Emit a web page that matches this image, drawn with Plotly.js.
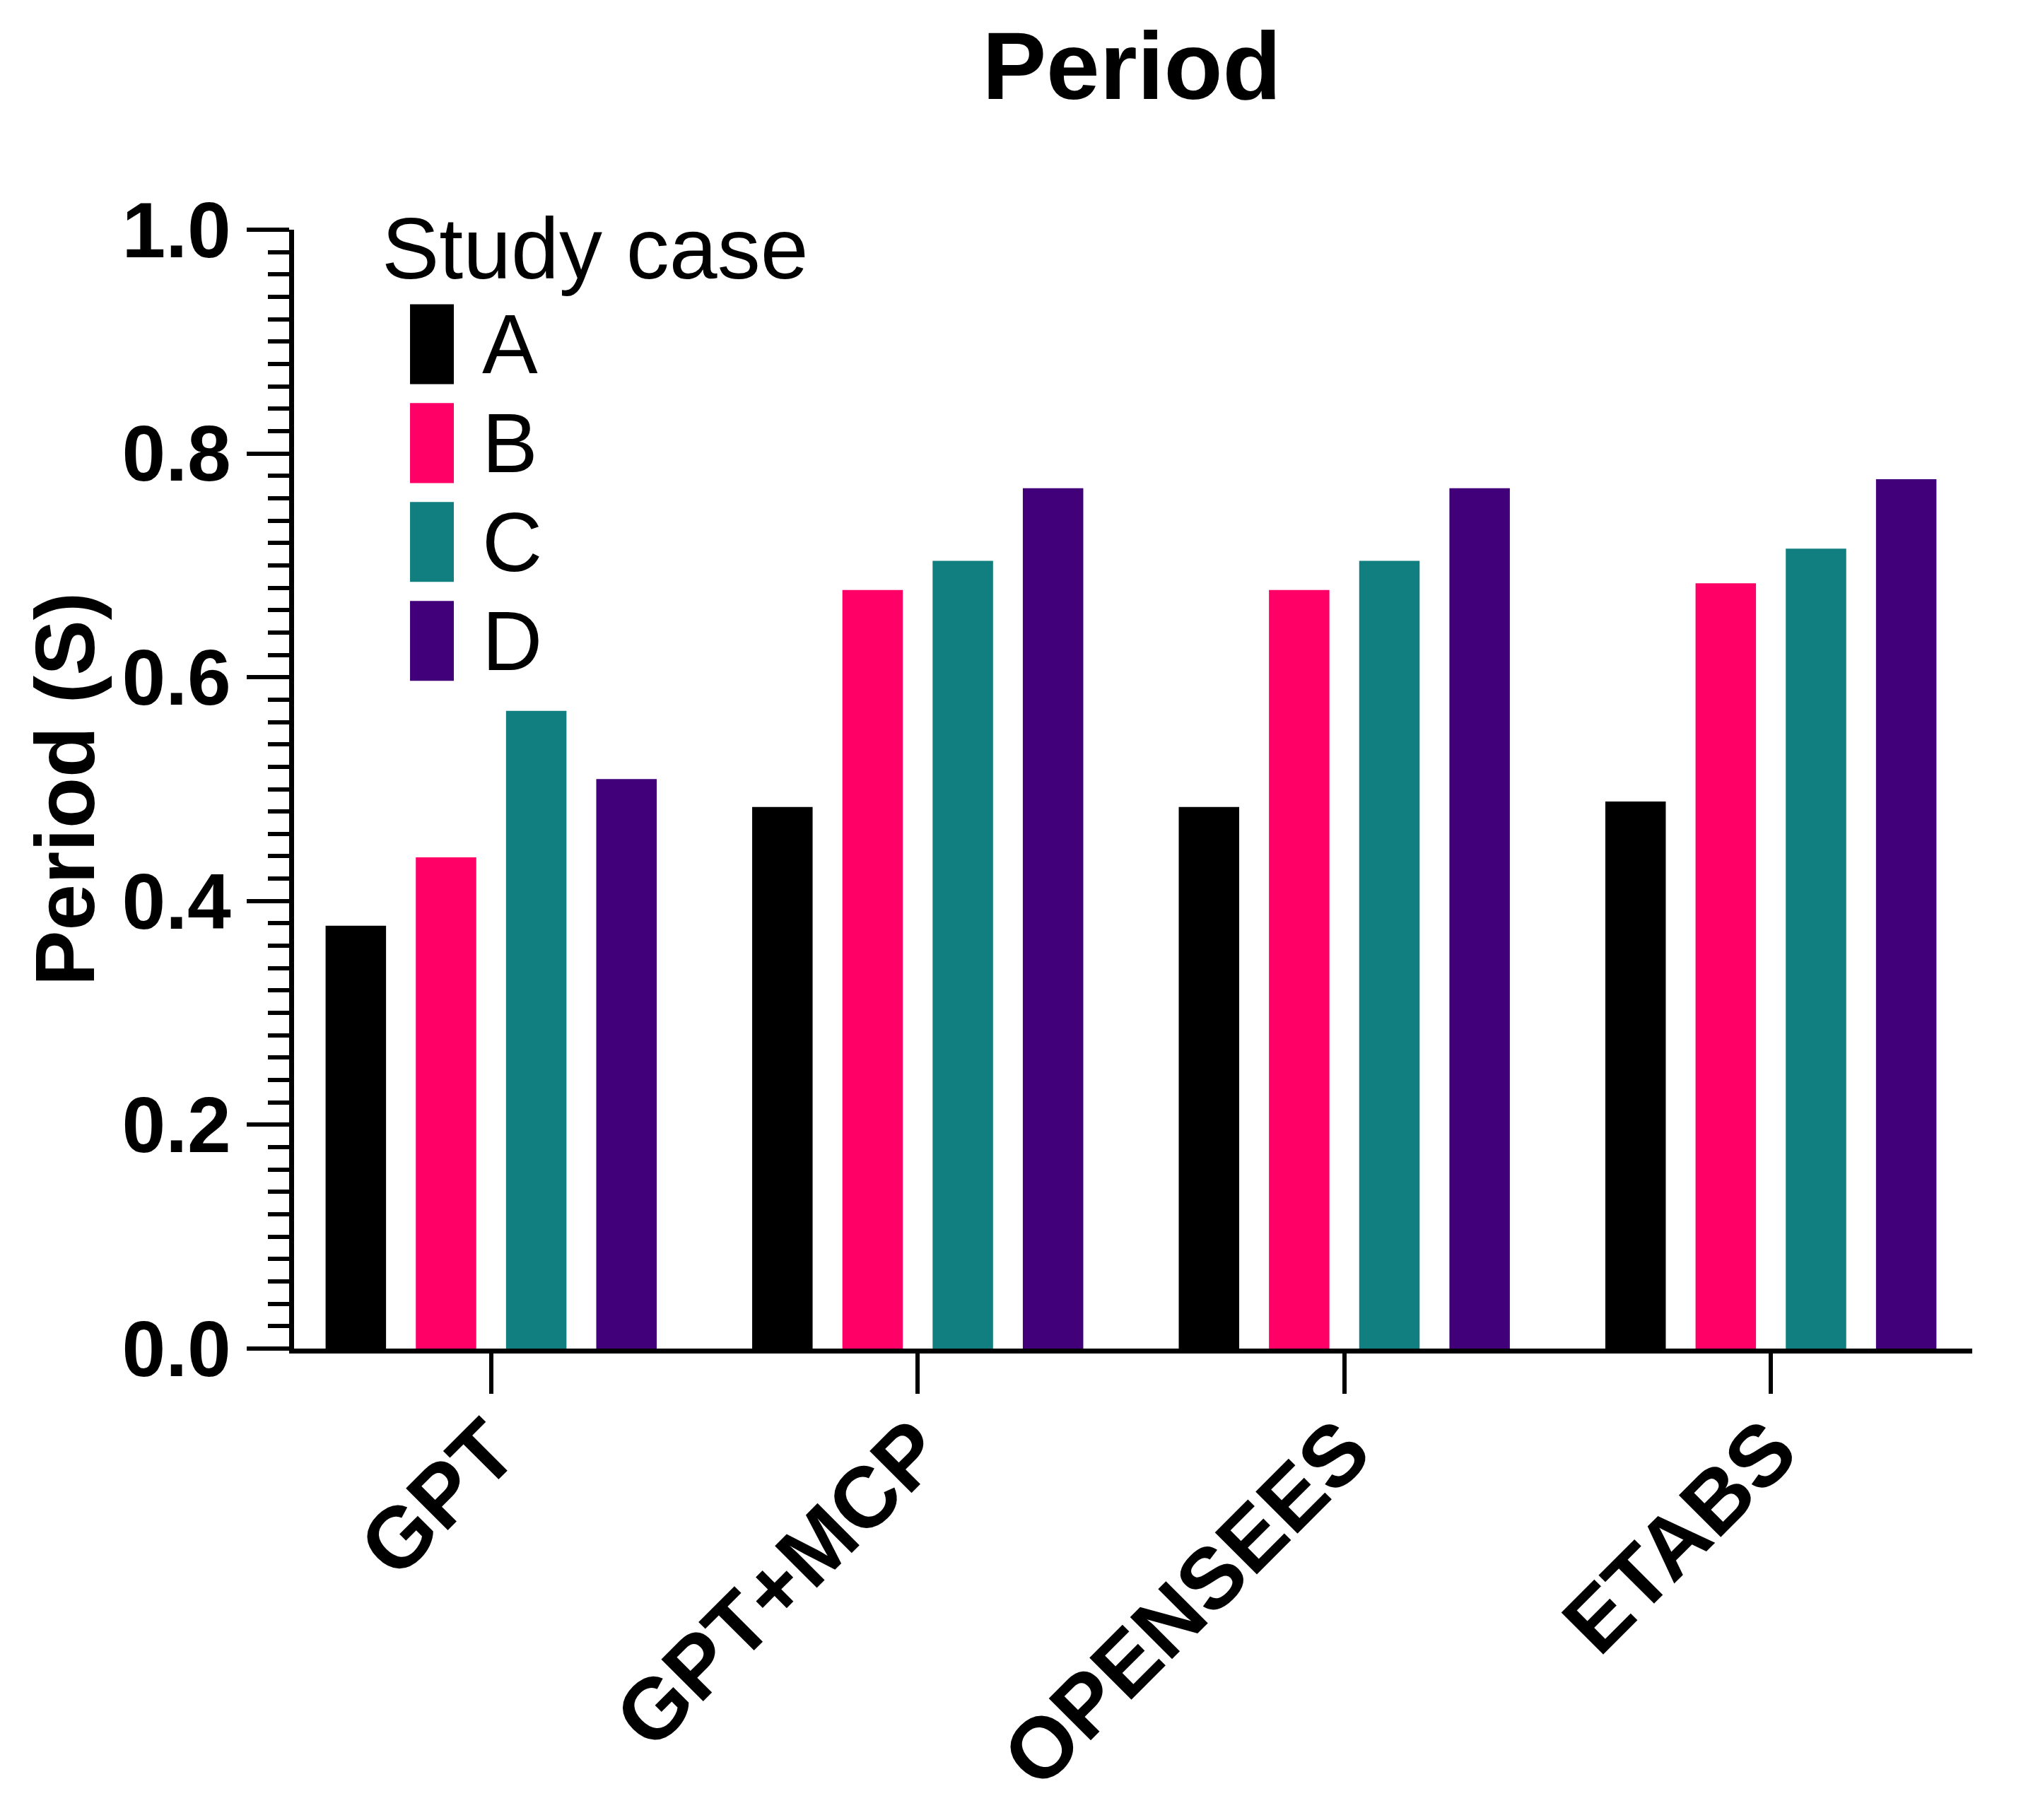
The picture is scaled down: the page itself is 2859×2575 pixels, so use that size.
<!DOCTYPE html>
<html>
<head>
<meta charset="utf-8">
<script src="https://cdn.plot.ly/plotly-3.0.1.min.js"></script>
<style>html,body{margin:0;padding:0;background:#fff;}#chart{width:2859px;height:2575px;}</style>
</head>
<body>
<div id="chart"></div>
<script>
// ---- data ----
const categories = ["GPT", "GPT+MCP", "OPENSEES", "ETABS"];
const seriesNames = ["A", "B", "C", "D"];
const seriesA = [0.378, 0.484, 0.484, 0.489];
const seriesB = [0.439, 0.678, 0.678, 0.684];
const seriesC = [0.570, 0.704, 0.704, 0.715];
const seriesD = [0.509, 0.769, 0.769, 0.777];
const seriesColors = ["#000000", "#FF0066", "#117F7F", "#41007A"];
const yTickValues = [0, 0.2, 0.4, 0.6, 0.8, 1.0];
const legendTitle = "Study case";
const chartTitle = "Period";
const yTitle = "Period (S)";

const allSeries = [seriesA, seriesB, seriesC, seriesD];
const FONT = "Arial, 'Liberation Sans', sans-serif";

const traces = allSeries.map((vals, i) => ({
  type: "bar",
  name: seriesNames[i],
  x: categories,
  y: vals,
  marker: {color: seriesColors[i], line: {width: 0}},
  showlegend: false,
  hoverinfo: "x+y+name"
}));

// custom legend (large swatches like the original)
const legX0 = 0.0691, legX1 = 0.0952, legTop = 0.8977, legPitch = 0.0884, legHalf = 0.0357;
const shapes = seriesNames.map((n, i) => ({
  type: "rect", xref: "paper", yref: "paper",
  x0: legX0, x1: legX1,
  y0: legTop - i * legPitch - legHalf, y1: legTop - i * legPitch + legHalf,
  fillcolor: seriesColors[i], line: {width: 0}
}));
const annotations = seriesNames.map((n, i) => ({
  xref: "paper", yref: "paper", x: 0.1112, y: legTop - i * legPitch,
  xanchor: "left", yanchor: "middle", showarrow: false, text: n,
  font: {family: FONT, size: 118, color: "#000"}
}));
annotations.push({
  xref: "paper", yref: "paper", x: 0.0514, y: 0.983,
  xanchor: "left", yanchor: "middle", showarrow: false, text: legendTitle,
  font: {family: FONT, size: 122, color: "#000"}
});

const layout = {
  width: 2859, height: 2575,
  margin: {l: 416, r: 69, t: 325, b: 667, autoexpand: false},
  paper_bgcolor: "#fff", plot_bgcolor: "#fff",
  font: {family: FONT, color: "#000"},
  title: {
    text: "<b>" + chartTitle + "</b>",
    x: 1601 / 2859, xanchor: "center", xref: "container",
    y: 1 - 92 / 2575, yanchor: "middle", yref: "container",
    font: {family: FONT, size: 136, color: "#000"}
  },
  barmode: "group",
  bargap: 0.154,
  bargroupgap: 0.33,
  showlegend: false,
  xaxis: {
    type: "category",
    range: [-0.462, 3.472],
    showline: true, linecolor: "#000", linewidth: 7,
    ticks: "outside", ticklen: 57, tickwidth: 6, tickcolor: "#000",
    tickangle: -45,
    ticklabelstandoff: -40,
    tickfont: {family: FONT, size: 122, color: "#000", weight: "bold"},
    showgrid: false, zeroline: false, fixedrange: true
  },
  yaxis: {
    range: [0, 1.0],
    tickvals: yTickValues,
    tickformat: ".1f",
    showline: true, linecolor: "#000", linewidth: 7,
    ticks: "outside", ticklen: 60, tickwidth: 6, tickcolor: "#000",
    minor: {dtick: 0.02, ticks: "outside", ticklen: 30, tickwidth: 6, tickcolor: "#000", showgrid: false},
    tickfont: {family: FONT, size: 111, color: "#000", weight: "bold"},
    title: {text: "<b>" + yTitle + "</b>", font: {family: FONT, size: 118, color: "#000"}, standoff: 2},
    showgrid: false, zeroline: false, fixedrange: true
  },
  shapes: shapes,
  annotations: annotations
};

Plotly.newPlot("chart", traces, layout, {displayModeBar: false, staticPlot: true});
</script>
</body>
</html>
